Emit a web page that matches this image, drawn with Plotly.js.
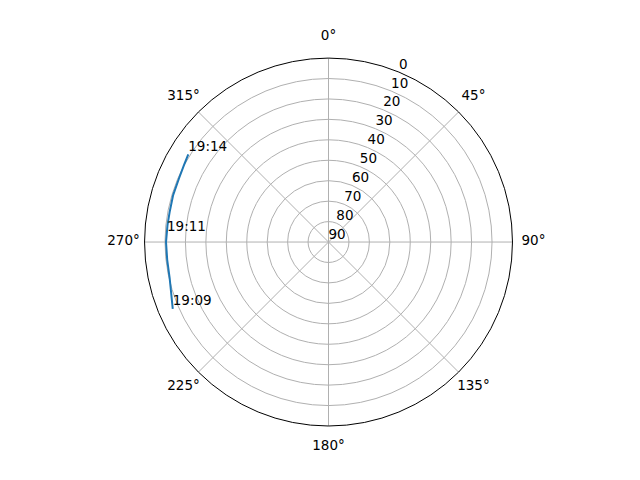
<!DOCTYPE html>
<html>
<head>
<meta charset="utf-8">
<script src="https://cdn.plot.ly/plotly-3.0.1.min.js"></script>
<style>
  html, body { margin: 0; padding: 0; background: #fff; }
  #chart { width: 640px; height: 480px; }
</style>
</head>
<body>
<div id="chart"></div>
<script>
// pass track: azimuth (deg, clockwise from north) and elevation (deg)
const azimuth   = [246.8, 250.3, 253.5, 257.2, 263.7, 270.0, 276.0, 281.0, 286.8, 293.1, 298.0, 302.0];
const elevation = [7.1,   8.5,   9.5,   10.3,  10.6,  10.5,  10.8,  10.9,  10.6,  10.5,  9.9,   9.1];

// time labels along the track
const labelTimes = ["19:09", "19:11", "19:14"];
const labelAz    = [246.8, 272.8, 302.0];
const labelEl    = [7.1, 10.9, 9.1];

const angTicks = [0, 45, 90, 135, 180, 225, 270, 315];
const radTicks = [0, 10, 20, 30, 40, 50, 60, 70, 80, 90];
const radLabelAz = 22.5;

const font = { family: "DejaVu Sans, sans-serif", size: 13.5, color: "#000" };

const track = {
    type: "scatterpolar",
    mode: "lines",
    r: elevation,
    theta: azimuth,
    line: { color: "#1f77b4", width: 2 },
    hoverinfo: "skip"
};

const labels = {
    type: "scatterpolar",
    mode: "text",
    r: labelEl,
    theta: labelAz,
    text: labelTimes,
    textposition: "top right",
    textfont: font,
    hoverinfo: "skip"
};

// radial tick labels, drawn flat like matplotlib does
const radLabels = {
    type: "scatterpolar",
    mode: "text",
    r: radTicks,
    theta: radTicks.map(() => radLabelAz),
    text: radTicks.map(String),
    textposition: "top right",
    textfont: font,
    cliponaxis: false,
    hoverinfo: "skip"
};

// angle labels centred on a slightly larger, invisible polar
const angLabels = {
    type: "scatterpolar",
    subplot: "polar2",
    mode: "text",
    r: angTicks.map(() => 1),
    theta: angTicks,
    text: angTicks.map(a => a + "°"),
    textposition: "middle center",
    textfont: font,
    cliponaxis: false,
    hoverinfo: "skip"
};

const hidden = {
    showline: false, showgrid: false, showticklabels: false, ticks: ""
};

const layout = {
    width: 640,
    height: 480,
    margin: { l: 0, r: 0, t: 0, b: 0 },
    paper_bgcolor: "#fff",
    showlegend: false,
    font: font,
    polar: {
        domain: { x: [0.2258, 0.8008], y: [0.1125, 0.879] },
        bgcolor: "#fff",
        angularaxis: {
            rotation: 90,
            direction: "clockwise",
            tickvals: angTicks,
            showticklabels: false,
            ticks: "",
            showline: true,
            linecolor: "#000",
            linewidth: 1,
            gridcolor: "#b0b0b0",
            gridwidth: 1
        },
        radialaxis: {
            range: [90, 0],
            tickvals: radTicks,
            showticklabels: false,
            showline: false,
            ticks: "",
            gridcolor: "#b0b0b0",
            gridwidth: 1
        }
    },
    polar2: {
        domain: { x: [0.193, 0.8336], y: [0.06875, 0.9229] },
        bgcolor: "rgba(0,0,0,0)",
        angularaxis: Object.assign({ rotation: 90, direction: "clockwise" }, hidden),
        radialaxis: Object.assign({ range: [0, 1] }, hidden)
    }
};

Plotly.newPlot("chart", [track, labels, radLabels, angLabels], layout, { staticPlot: true });
</script>
</body>
</html>
